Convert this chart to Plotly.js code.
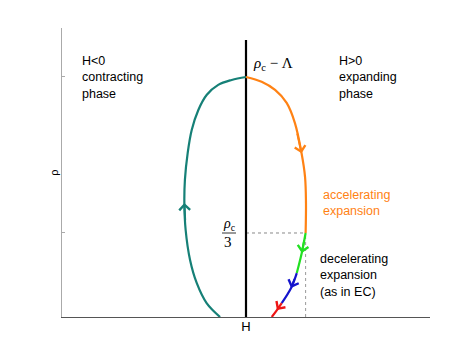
<!DOCTYPE html>
<html>
<head>
<meta charset="utf-8">
<script src="https://cdn.plot.ly/plotly-3.0.1.min.js"></script>
<style>html,body{margin:0;padding:0;background:#fff;}#chart{width:474px;height:355px;}</style>
</head>
<body>
<div id="chart"></div>
<script>
// Contracting branch (H<0), traversed upward
const contractH   = [-0.141, -0.214, -0.268, -0.304, -0.328, -0.335, -0.332, -0.317, -0.295, -0.259, -0.214, -0.151, -0.078, 0];
const contractRho = [0, 0.058, 0.142, 0.2375, 0.3625, 0.475, 0.571, 0.683, 0.779, 0.8625, 0.925, 0.967, 0.9875, 1];
// Expanding branch: accelerating part
const accelH   = [0, 0.085, 0.158, 0.221, 0.266, 0.302, 0.321, 0.326, 0.324];
const accelRho = [1, 0.980, 0.946, 0.892, 0.808, 0.682, 0.583, 0.475, 0.35];
// Decelerating part (green, blue, red)
const greenH   = [0.324, 0.303, 0.276];
const greenRho = [0.35, 0.267, 0.183];
const blueH    = [0.276, 0.245, 0.194];
const blueRho  = [0.183, 0.121, 0.058];
const redH     = [0.194, 0.168, 0.140];
const redRho   = [0.058, 0.029, 0];
// H = 0 line
const axisH   = [0, 0];
const axisRho = [0, 1.154];
// Special densities
const rhoTicks = [0.35, 1];
const rhoThird = 0.35;
const Hthird = 0.324;

const teal = '#168077', orange = '#FF8214', green = '#22E022', blue = '#1414CC', red = '#EE1515';

function line(x, y, color, shape) {
  return {x: x, y: y, type: 'scatter', mode: 'lines', hoverinfo: 'skip', cliponaxis: false,
          line: {color: color, width: 2.2, shape: shape || 'spline', smoothing: 1}, showlegend: false};
}

const traces = [
  {x: [0, Hthird], y: [rhoThird, rhoThird], type: 'scatter', mode: 'lines', showlegend: false,
   line: {color: '#888', width: 1, dash: 'dot'}},
  {x: [Hthird, Hthird], y: [0, rhoThird], type: 'scatter', mode: 'lines', showlegend: false,
   line: {color: '#999', width: 1, dash: 'dot'}},
  line(axisH, axisRho, '#000', 'linear'),
  line(contractH, contractRho, teal),
  line(accelH, accelRho, orange),
  line(greenH, greenRho, green),
  line(blueH, blueRho, blue),
  line(redH, redRho, red)
];

function arrow(xs, ys, i, color) {
  const tx = xs[i] + 0.7 * (xs[i - 1] - xs[i]);
  const ty = ys[i] + 0.7 * (ys[i - 1] - ys[i]);
  return {x: xs[i], y: ys[i], ax: tx, ay: ty, axref: 'x', ayref: 'y', xref: 'x', yref: 'y',
          text: '', showarrow: true, arrowhead: 4, arrowsize: 1.05, arrowwidth: 2,
          arrowcolor: color, standoff: 0};
}

const sans = 'Liberation Sans, Arial, sans-serif';
const serif = 'Liberation Serif, DejaVu Serif, serif';

function txt(x, y, text, color, size, family, anchor) {
  return {xref: 'paper', yref: 'paper', x: x, y: y, text: text, showarrow: false,
          xanchor: anchor || 'left', yanchor: 'middle', align: 'left',
          font: {family: family || sans, size: size || 12.5, color: color || '#000'}};
}

// paper coords: plot left=62, width=368; top=28, height=289
function px(p) { return (p - 62) / 368; }
function py(p) { return (317 - p) / 289; }

const annotations = [
  arrow(contractH, contractRho, 5, teal),
  arrow(accelH, accelRho, 5, orange),
  arrow(greenH, greenRho, 1, green),
  arrow(blueH, blueRho, 1, blue),
  arrow(redH, redRho, 1, red),
  txt(px(80), py(77), 'H&lt;0<br>contracting<br>phase'),
  txt(px(337), py(77), 'H&gt;0<br>expanding<br>phase'),
  txt(px(321), py(203), 'accelerating<br>expansion', orange),
  txt(px(318), py(275), 'decelerating<br>expansion<br>(as in EC)'),
  txt(px(251), py(64), '<i>ρ</i><sub>c</sub> − Λ', '#000', 15, serif),
  txt(px(229), py(224), '<i>ρ</i><sub>c</sub>', '#000', 14, serif, 'center'),
  txt(px(228), py(242), '3', '#000', 15, serif, 'center')
];

const layout = {
  width: 474, height: 355,
  margin: {l: 62, r: 44, t: 28, b: 38},
  paper_bgcolor: '#fff', plot_bgcolor: '#fff',
  showlegend: false,
  xaxis: {range: [-1, 1], showgrid: false, zeroline: false, showline: true,
          linecolor: '#555', linewidth: 1, ticks: '', showticklabels: false,
          title: {text: 'H', font: {family: sans, size: 13, color: '#000'}, standoff: 4}},
  yaxis: {range: [0, 1.204], showgrid: false, zeroline: false, showline: true,
          linecolor: '#aaa', linewidth: 1, ticks: 'inside', ticklen: 3, tickcolor: '#aaa',
          tickvals: rhoTicks, showticklabels: false,
          title: {text: 'ρ', font: {family: sans, size: 11, color: '#000'}, standoff: 0}},
  shapes: [
    {type: 'line', xref: 'paper', yref: 'paper', x0: px(222), x1: px(236), y0: py(233), y1: py(233),
     line: {color: '#000', width: 0.8}}
  ],
  annotations: annotations
};

Plotly.newPlot('chart', traces, layout, {displayModeBar: false, staticPlot: true});
</script>
</body>
</html>
